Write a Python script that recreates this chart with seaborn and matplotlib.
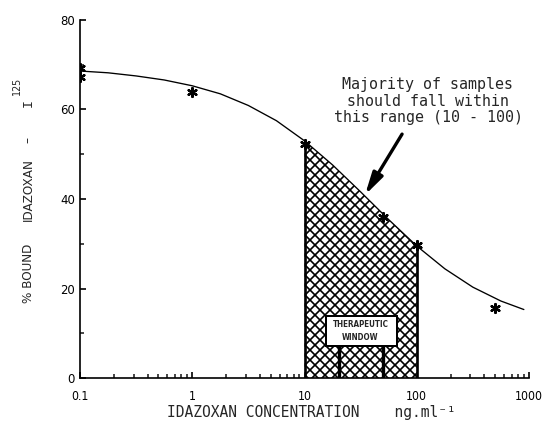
import numpy as np
import matplotlib
matplotlib.use("Agg")
import matplotlib.pyplot as plt
from matplotlib.patches import Rectangle
from matplotlib.ticker import FixedLocator, FixedFormatter, NullFormatter
import seaborn as sns

# ---- data ----
conc = [0.1, 0.1, 1, 10, 50, 100, 500]              # ng/ml
bound = [67.2, 69.3, 63.8, 52.2, 35.9, 29.7, 15.6]  # % bound

curve_x = [0.1, 0.178, 0.316, 0.562, 1, 1.78, 3.16, 5.62, 10,
           17.8, 31.6, 56.2, 100, 178, 316, 562, 900]
curve_y = [68.6, 68.2, 67.5, 66.6, 65.3, 63.5, 60.9, 57.5, 53.0,
           47.6, 41.6, 35.4, 29.5, 24.4, 20.3, 17.2, 15.3]

window_lo, window_hi = 10, 100
xticks = [0.1, 1, 10, 100, 1000]
xtick_labels = ["0.1", "1", "10", "100", "1000"]
yticks = [0, 20, 40, 60, 80]

sns.set_style("ticks")
plt.rcParams["font.family"] = ["DejaVu Sans"]
plt.rcParams["hatch.linewidth"] = 1.0

DPI = 120
fig = plt.figure(figsize=(542 / DPI, 432 / DPI), dpi=DPI)
ax = fig.add_axes([80 / 542, 1 - 378 / 432, (529 - 80) / 542, (378 - 20) / 432])
ax.set_xscale("log")

# shaded therapeutic window under the curve
cx = np.array(curve_x)
cy = np.array(curve_y)
m = (cx >= window_lo) & (cx <= window_hi)
ax.fill_between(cx[m], 0, cy[m], facecolor="white", edgecolor="black",
                hatch="xxxx", linewidth=0, zorder=1)
ax.vlines([window_lo, window_hi], 0, [cy[cx == window_lo][0], cy[cx == window_hi][0]],
          color="black", lw=1.6, zorder=3)

sns.lineplot(x=curve_x, y=curve_y, ax=ax, color="black", lw=0.8, zorder=4,
             sort=False, estimator=None)
sns.scatterplot(x=conc, y=bound, ax=ax, marker=(6, 2, 0), s=28, color="black",
                linewidth=1.4, edgecolor="black", zorder=5)

# therapeutic window sign
ax.vlines([20.1, 49.7], 0, 7.1, color="black", lw=2.0, zorder=6)
ax.add_patch(Rectangle((15.4, 7.1), 66.2 - 15.4, 6.8, facecolor="white",
                       edgecolor="black", lw=1.2, zorder=7))
ax.text(31.6, 10.5, "THERAPEUTIC\nWINDOW", ha="center", va="center",
        fontsize=4.8, fontweight="bold", zorder=8, linespacing=1.6,
        fontstretch="condensed")

# annotation
ax.annotate("", xy=(34.6, 40.9), xytext=(74, 54.5),
            arrowprops=dict(arrowstyle="-|>,head_length=1.1,head_width=0.28",
                            color="black", lw=2.0, shrinkA=0, shrinkB=0),
            zorder=9)
fig.text(428 / 542, 1 - 101 / 432,
         "Majority of samples\nshould fall within\nthis range (10 - 100)",
         ha="center", va="center", fontsize=9, family="DejaVu Sans Mono",
         linespacing=1.15)

ax.set_xlim(0.1, 1000)
ax.set_ylim(0, 80)
ax.xaxis.set_major_locator(FixedLocator(xticks))
ax.xaxis.set_major_formatter(FixedFormatter(xtick_labels))
ax.xaxis.set_minor_formatter(NullFormatter())
ax.set_yticks(yticks)
ax.set_yticks([10, 30, 50, 70], minor=True)
ax.tick_params(axis="both", which="major", direction="in", length=3.5,
               width=1, labelsize=7.8, colors="black")
ax.tick_params(axis="x", which="major", labelsize=7.3)
ax.tick_params(axis="both", which="minor", direction="in", length=2.5, width=1)
ax.tick_params(axis="x", which="major", pad=7)
ax.tick_params(axis="y", which="major", pad=3)
for lab in ax.get_xticklabels() + ax.get_yticklabels():
    lab.set_fontstretch("condensed")

sns.despine(ax=ax)
for s in ("left", "bottom"):
    ax.spines[s].set_linewidth(1.0)
    ax.spines[s].set_color("black")

ax.set_xlabel("")
ax.set_ylabel("")
fig.text(311 / 542, 1 - 412 / 432, "IDAZOXAN CONCENTRATION    ng.ml\u207b\u00b9",
         ha="center", va="center", fontsize=8.8, family="DejaVu Sans Mono")

# y label, pieces spaced as in the reference
ylab_x = 28 / 542
for txt, ypx in [("% BOUND", 273), ("IDAZOXAN", 190), ("\u2013", 140)]:
    fig.text(ylab_x, 1 - ypx / 432, txt, ha="center", va="center",
             rotation=90, fontsize=7.2)
fig.text(ylab_x, 1 - 103 / 432, "I", ha="center", va="center",
         rotation=90, fontsize=8, family="DejaVu Sans Mono")
fig.text(17 / 542, 1 - 86 / 432, "125", ha="center", va="center",
         rotation=90, fontsize=5.8)

fig.savefig("out.png", dpi=DPI)
